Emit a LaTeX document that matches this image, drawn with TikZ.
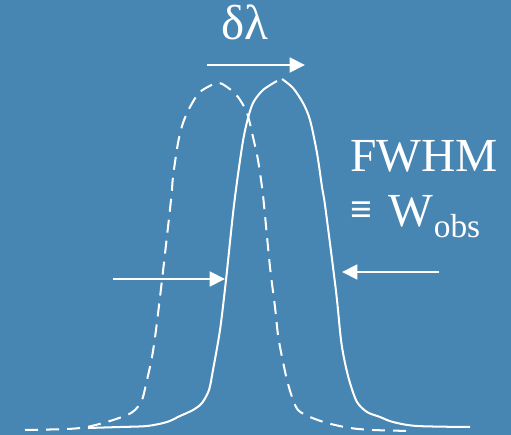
\documentclass[tikz,border=0pt]{standalone}
\usepackage{fontspec}
\setmainfont{Liberation Serif}
\definecolor{slate}{HTML}{4785B2}
\usetikzlibrary{arrows.meta}

\begin{document}
\begin{tikzpicture}[x=0.02cm, y=-0.02cm,
    curve/.style={white, line width=1.15pt},
    shiftarrow/.style={white, line width=1.2pt, -{Triangle[length=0.31cm, width=0.3cm]}},
    lbl/.style={white, inner sep=0pt}]
  \fill[slate] (0,0) rectangle (511,435);

  % observed line (solid) and reference line (dashed)
  \draw[curve] plot[smooth, tension=0.5] coordinates {(88,428) (120,427) (147,426) (167,422) (180,416) (193,410) (202,403) (209,390) (213,370) (220,330) (226,280) (234,205) (242,147) (247,122) (253,103) (263,90) (277,81)};
  \draw[curve] plot[smooth, tension=0.5] coordinates {(282,79) (293,88) (303,103) (310,120) (317,153) (322,187) (325,205) (333,267) (337,300) (341,340) (345,363) (350,383) (357,402) (367,412) (380,417) (393,422) (417,426) (470,427)};
  \draw[curve, dash pattern=on 7.4pt off 4.6pt] plot[smooth, tension=0.5] coordinates {(25,430) (67,429) (87,427) (110,421) (127,415) (135,410) (142,400) (147,380) (152,357) (156,330) (162,280) (171,200) (173,177) (178,143) (183,123) (190,107) (200,92) (217,83) (227,87) (238,97) (247,113) (253,137) (258,160) (262,187) (264,205) (270,267) (275,307) (278,335) (282,357) (287,380) (292,397) (298,410) (310,417) (327,423) (350,428) (373,430) (410,431)};

  % shift
  \coordinate (shiftfrom) at (207,65);
  \coordinate (shiftto) at (305,65);
  \draw[shiftarrow] (shiftfrom) -- (shiftto);
  \node[lbl, anchor=base, font=\fontsize{28}{28}\selectfont] (dlam) at (245,40) {δλ};

  % width
  \coordinate (leftfrom) at (113,279);
  \coordinate (leftto) at (225,279);
  \coordinate (rightfrom) at (439,272);
  \coordinate (rightto) at (342,272);
  \draw[shiftarrow] (leftfrom) -- (leftto);
  \draw[shiftarrow] (rightfrom) -- (rightto);

  \node[lbl, anchor=base west, font=\fontsize{27}{27}\selectfont] (fwhm) at (350,172) {FWHM};
  \node[lbl, anchor=base west, font=\fontsize{22}{22}\selectfont\bfseries] (eqv) at (350,223) {≡};
  \node[lbl, anchor=base west, font=\fontsize{27}{27}\selectfont] (wobs) at (388,227) {W};
  \node[lbl, anchor=base west, font=\fontsize{19}{19}\selectfont] (obs) at (wobs.base east) [yshift=-0.22cm] {obs};
\end{tikzpicture}
\end{document}
